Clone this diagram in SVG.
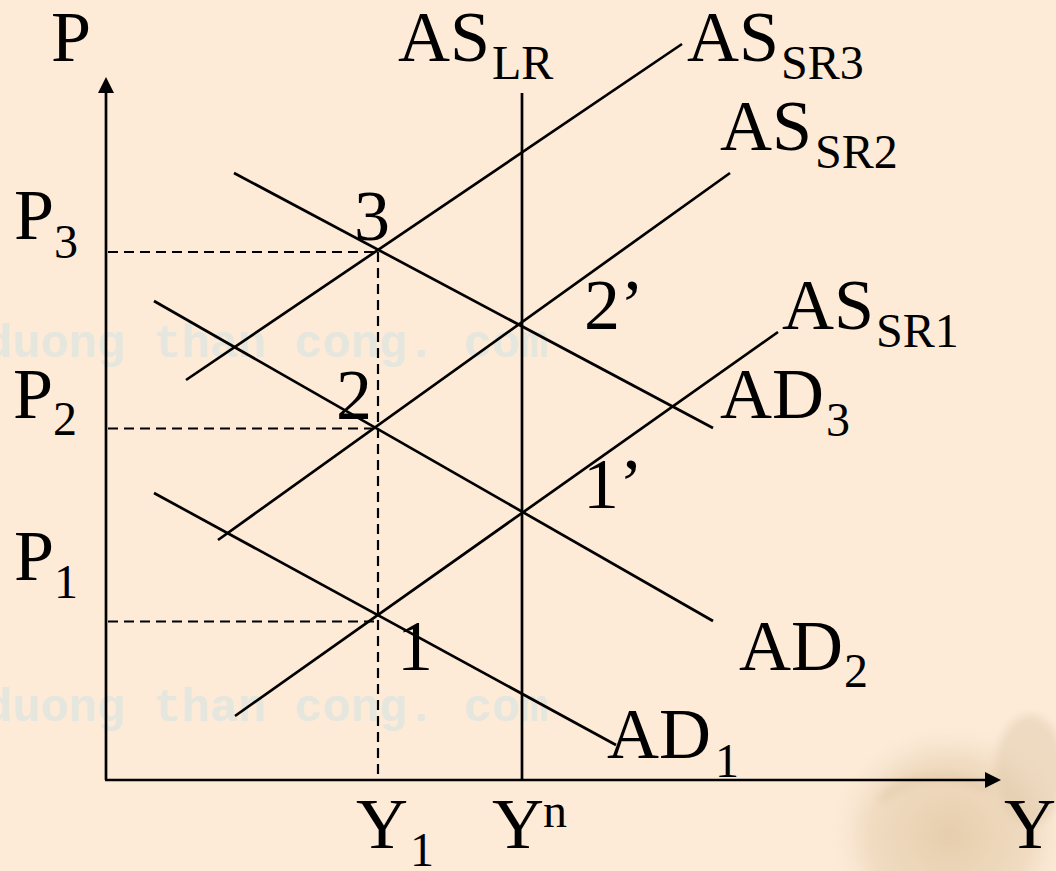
<svg xmlns="http://www.w3.org/2000/svg" width="1056" height="871" viewBox="0 0 1056 871">
  <defs>
    <style>
      .t { font-family: "Liberation Serif", "Times New Roman", serif; fill: #000; }
      .m { font-size: 72px; }
      .s { font-size: 48px; }
      .ln { stroke: #000; stroke-width: 2.7; fill: none; stroke-linecap: butt; }
      .ax { stroke: #000; stroke-width: 2.7; fill: none; }
      .dash { stroke: #000; stroke-width: 2.2; fill: none; stroke-dasharray: 10 6; }
      .wm { font-family: "Liberation Mono", "DejaVu Sans Mono", monospace; font-size: 47px; font-weight: bold; fill: #E5E6DE; }
    </style>
    <radialGradient id="deco" cx="0.5" cy="0.5" r="0.5">
      <stop offset="0" stop-color="#E2C8A4" stop-opacity="0.85"/>
      <stop offset="0.65" stop-color="#E8D1B2" stop-opacity="0.6"/>
      <stop offset="1" stop-color="#FDEBD8" stop-opacity="0"/>
    </radialGradient>
    <filter id="blur" x="-20%" y="-20%" width="140%" height="140%">
      <feGaussianBlur stdDeviation="5"/>
    </filter>
  </defs>

  <rect id="background" x="0" y="0" width="1056" height="871" fill="#FDEBD8"/>

  <g id="decoration" filter="url(#blur)">
    <ellipse cx="950" cy="835" rx="125" ry="115" fill="url(#deco)"/>
    <ellipse cx="1030" cy="770" rx="35" ry="55" fill="#DCC6A6" opacity="0.45"/>
    <path d="M880,800 Q930,760 990,790" stroke="#CDAF88" stroke-width="6" fill="none" opacity="0.35"/>
  </g>

  <g id="watermark">
    <text class="wm" x="-16" y="357">duong than cong. com</text>
    <text class="wm" x="-16" y="721">duong than cong. com</text>
  </g>

  <g id="axes">
    <line class="ax" x1="106" y1="780" x2="106" y2="92"/>
    <polygon points="106,77 98,93 114,93" fill="#000"/>
    <line class="ax" x1="105" y1="780" x2="986" y2="780"/>
    <polygon points="1001,780 985,772 985,788" fill="#000"/>
  </g>

  <g id="guides">
    <line class="dash" x1="108" y1="252" x2="378" y2="252"/>
    <line class="dash" x1="108" y1="428.5" x2="378" y2="428.5"/>
    <line class="dash" x1="108" y1="621.5" x2="378" y2="621.5"/>
    <line class="dash" x1="378" y1="252" x2="378" y2="779"/>
  </g>

  <g id="connectors">
    <line id="AS_LR" class="ln" x1="522" y1="93" x2="522" y2="780"/>
    <line id="AS_SR3" class="ln" x1="186" y1="380" x2="682" y2="44"/>
    <line id="AS_SR2" class="ln" x1="218" y1="540" x2="730" y2="173"/>
    <line id="AS_SR1" class="ln" x1="235" y1="716" x2="778" y2="332"/>
    <line id="AD3" class="ln" x1="234" y1="173" x2="713" y2="428"/>
    <line id="AD2" class="ln" x1="154" y1="301" x2="713" y2="621"/>
    <line id="AD1" class="ln" x1="154" y1="493" x2="616" y2="745"/>
  </g>

  <g id="axis-labels">
    <text class="t m" x="51" y="61">P</text>
    <text class="t m" x="1004" y="848">Y</text>
  </g>

  <g id="price-labels">
    <text class="t"><tspan class="m" x="14" y="239">P</tspan><tspan class="s" x="54" y="258">3</tspan></text>
    <text class="t"><tspan class="m" x="13" y="418">P</tspan><tspan class="s" x="53" y="435">2</tspan></text>
    <text class="t"><tspan class="m" x="14" y="580">P</tspan><tspan class="s" x="54" y="598">1</tspan></text>
  </g>

  <g id="output-labels">
    <text class="t"><tspan class="m" x="356" y="848">Y</tspan><tspan class="s" x="410" y="866">1</tspan></text>
    <text class="t"><tspan class="m" x="492" y="848">Y</tspan><tspan class="s" x="543" y="827">n</tspan></text>
  </g>

  <g id="curve-labels">
    <text class="t"><tspan class="m" x="398" y="61">AS</tspan><tspan class="s" x="492" y="79">LR</tspan></text>
    <text class="t"><tspan class="m" x="687" y="61">AS</tspan><tspan class="s" x="781" y="79">SR3</tspan></text>
    <text class="t"><tspan class="m" x="720" y="150">AS</tspan><tspan class="s" x="815" y="168">SR2</tspan></text>
    <text class="t"><tspan class="m" x="782" y="329">AS</tspan><tspan class="s" x="876" y="347">SR1</tspan></text>
    <text class="t"><tspan class="m" x="720" y="418">AD</tspan><tspan class="s" x="826" y="436">3</tspan></text>
    <text class="t"><tspan class="m" x="739" y="670">AD</tspan><tspan class="s" x="844" y="687">2</tspan></text>
    <text class="t"><tspan class="m" x="607" y="758">AD</tspan><tspan class="s" x="715" y="777">1</tspan></text>
  </g>

  <g id="points">
    <text class="t m" x="354" y="240">3</text>
    <text class="t m" x="336" y="419">2</text>
    <text class="t m" x="584" y="329">2’</text>
    <text class="t m" x="583" y="508">1’</text>
    <text class="t m" x="397" y="670">1</text>
  </g>
</svg>
